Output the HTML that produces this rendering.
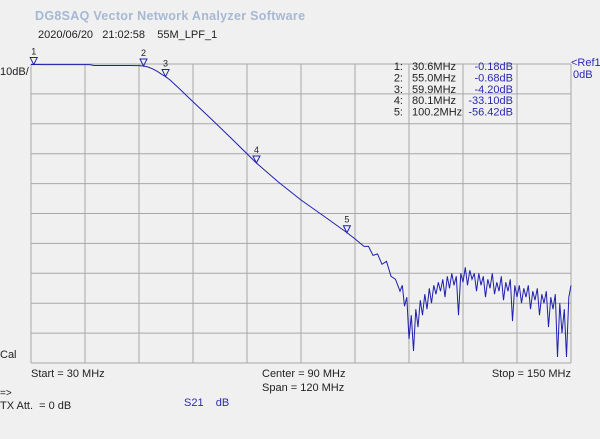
<!DOCTYPE html>
<html><head><meta charset="utf-8"><style>
body{margin:0;background:#f0f0f0;}
svg{display:block;font-family:"Liberation Sans",sans-serif;}
svg text{white-space:pre;}
</style></head><body>
<svg width="600" height="439" viewBox="0 0 600 439">
<rect width="600" height="439" fill="#f0f0f0"/>
<text x="35" y="20" font-size="12.5" font-weight="bold" fill="#a6b8d4" letter-spacing="0.3">DG8SAQ Vector Network Analyzer Software</text>
<text x="38" y="38" font-size="11" fill="#222">2020/06/20   21:02:58    55M_LPF_1</text>
<g id="grid"></g>
<text x="0" y="75" font-size="11" fill="#222">10dB/</text>
<text x="571" y="66" font-size="11" fill="#2a2ab0">&lt;Ref1</text>
<text x="573" y="78" font-size="11" fill="#2a2ab0">0dB</text>
<text x="0" y="358" font-size="11" fill="#222">Cal</text>
<text x="31" y="377" font-size="11" fill="#222">Start = 30 MHz</text>
<text x="262" y="377" font-size="11" fill="#222">Center = 90 MHz</text>
<text x="262" y="391" font-size="11" fill="#222">Span = 120 MHz</text>
<text x="571" y="377" font-size="11" fill="#222" text-anchor="end">Stop = 150 MHz</text>
<text x="0" y="396" font-size="10" fill="#222">=&gt;</text>
<text x="0" y="409" font-size="11" fill="#222">TX Att.  = 0 dB</text>
<text x="184" y="406" font-size="11" fill="#2a2ab0">S21    dB</text>
<g id="table"></g>
<g id="trace"></g>
<g id="markers"></g>
</svg>
<script>
const freqs=[30,31,33,35,38,40,43,44,46,48,50,52,54,55,56,57,58,59,59.9,61,62,63,65,70,75,80.1,85,90,95,100.2,102,104,105,106,107,108,109,110,111,112,112.5,113,113.5,114,114.5,115,115.5,116,116.5,117,117.5,118,118.5,119,119.5,120,120.5,121,121.5,122,122.5,123,123.5,124,124.5,125,125.5,126,126.5,127,127.5,128,128.5,129,129.5,130,130.5,131,131.5,132,132.5,133,133.5,134,134.5,135,135.5,136,136.5,137,137.5,138,138.5,139,139.5,140,140.5,141,141.5,142,142.5,143,143.5,144,144.5,145,145.5,146,146.5,147,147.5,148,148.5,149,149.5,150];
const dbs=[-0.18,-0.18,-0.2,-0.2,-0.2,-0.2,-0.2,-0.5,-0.5,-0.5,-0.5,-0.5,-0.55,-0.68,-1.0,-1.6,-2.4,-3.4,-4.2,-5.5,-6.9,-8.3,-11.2,-18.3,-25.6,-33.1,-39.5,-45.5,-50.8,-56.4,-58.5,-61,-61,-64,-63.5,-67,-66,-71,-72,-76,-74,-81,-78,-92,-84,-96,-82,-88,-79,-84,-77,-82,-75,-80,-74,-77,-73,-76,-72,-78,-71,-75,-70,-74,-71,-84,-70,-73,-68,-74,-69,-72,-70,-76,-70,-74,-71,-78,-72,-75,-70,-77,-73,-76,-71,-79,-73,-76,-72,-86,-74,-78,-74,-80,-75,-78,-74,-82,-76,-79,-75,-84,-77,-80,-76,-88,-78,-82,-77,-98,-80,-90,-82,-98,-78,-74];
const markerNums=["1","2","3","4","5"];
const markerFreqs=[30.6,55.0,59.9,80.1,100.2];
const markerDbs=[-0.18,-0.68,-4.20,-33.10,-56.42];
const markerFreqText=["30.6MHz","55.0MHz","59.9MHz","80.1MHz","100.2MHz"];
const markerDbText=["-0.18dB","-0.68dB","-4.20dB","-33.10dB","-56.42dB"];
const NS="http://www.w3.org/2000/svg";
const X0=31,X1=571,Y0=64,Y1=363;
const xs=f=>X0+(f-30)/120*(X1-X0);
const ys=d=>Y0+(-d)/100*(Y1-Y0);
function mk(t,a,p){const e=document.createElementNS(NS,t);for(const k in a)e.setAttribute(k,a[k]);p.appendChild(e);return e;}
const g=document.getElementById('grid');
for(let i=0;i<=10;i++){
 const x=X0+i*(X1-X0)/10;
 const l=mk('line',{x1:x,x2:x,y1:Y0,y2:Y1,stroke:'#a8a8a8','stroke-width':1},g);
 
 
 const y=Y0+i*(Y1-Y0)/10;
 const h=mk('line',{x1:X0,x2:X1,y1:y,y2:y,stroke:'#a8a8a8','stroke-width':1},g);
 
 
}
const tb=document.getElementById('table');
for(let i=0;i<5;i++){
 const y=70+i*11.4;
 const a=mk('text',{x:403,y:y,'font-size':11,fill:'#222','text-anchor':'end'},tb);a.textContent=markerNums[i]+":";
 
 
 const b=mk('text',{x:412,y:y,'font-size':11,fill:'#222'},tb);b.textContent=markerFreqText[i];
 
 
 const c=mk('text',{x:513,y:y,'font-size':11,fill:'#2a2ab0','text-anchor':'end'},tb);c.textContent=markerDbText[i];
 
 
}
const tr=document.getElementById('trace');
const p=mk('polyline',{points:freqs.map((f,i)=>xs(f).toFixed(1)+','+ys(dbs[i]).toFixed(1)).join(' '),fill:'none',stroke:'#2020b0','stroke-width':1},tr);


const mg=document.getElementById('markers');
for(let i=0;i<5;i++){
 const x=xs(markerFreqs[i]),y=ys(markerDbs[i]);
 const t=mk('path',{d:`M${x-3.5},${y-7}L${x+3.5},${y-7}L${x},${y}Z`,fill:'none',stroke:'#2020b0','stroke-width':1},mg);
 
 
 const n=mk('text',{x:x,y:y-10,'font-size':9,fill:'#222','text-anchor':'middle'},mg);n.textContent=markerNums[i];
 
 
}
</script>
</body></html>
